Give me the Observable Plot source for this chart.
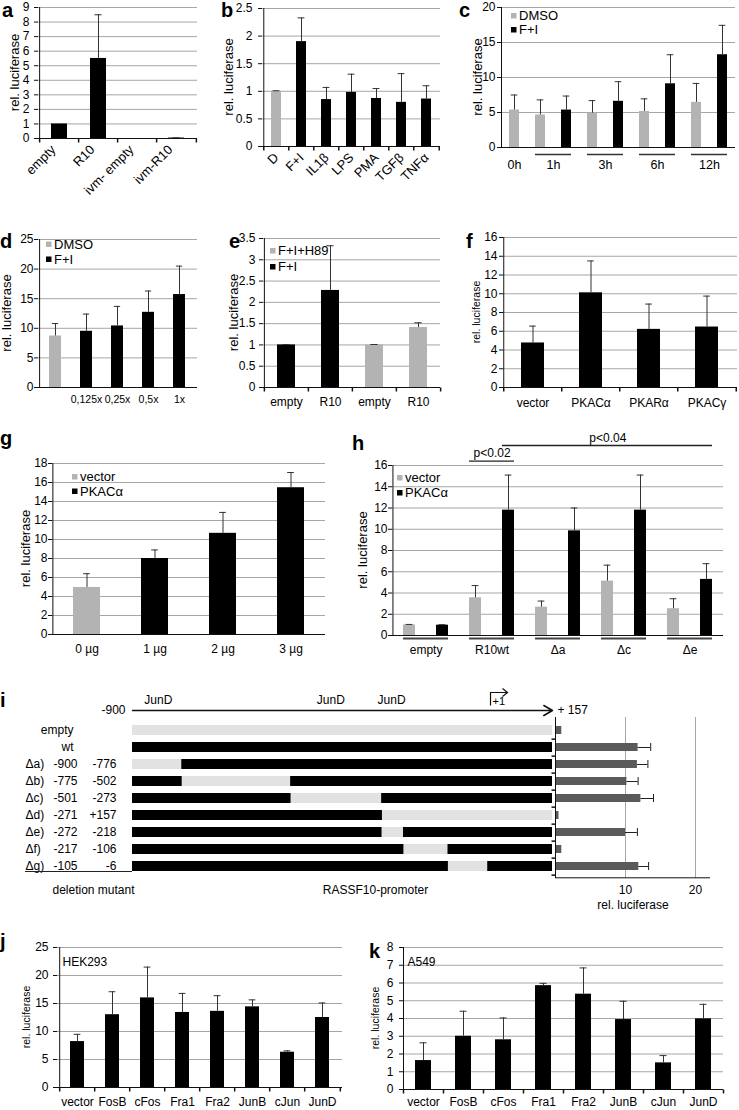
<!DOCTYPE html>
<html><head><meta charset="utf-8">
<script src="https://cdn.jsdelivr.net/npm/d3@7"></script>
<script src="https://cdn.jsdelivr.net/npm/@observablehq/plot@0.6"></script>
<style>
body{margin:0;background:#fff;}
#root{position:relative;width:739px;height:1110px;overflow:hidden;background:#fff;}
</style></head><body><div id="root"></div>
<script>
// ---------------- data ----------------
const aCats = ["empty", "R10", "ivm- empty", "ivm-R10"];
const aVals = [1, 5.5, 0, 0.03];
const aErrs = [0, 3.0, 0, 0.02];
const aTicks = [0, 1, 2, 3, 4, 5, 6, 7, 8, 9];

const bCats = ["D", "F+I", "IL1β", "LPS", "PMA", "TGFβ", "TNFα"];
const bSeries = ["control", "stimulus", "stimulus", "stimulus", "stimulus", "stimulus", "stimulus"];
const bVals = [1, 1.9, 0.85, 0.98, 0.87, 0.8, 0.86];
const bErrs = [0.01, 0.43, 0.22, 0.33, 0.18, 0.52, 0.24];
const bTicks = [0, 0.5, 1, 1.5, 2, 2.5];

const cTimes = ["0h", "1h", "1h", "3h", "3h", "6h", "6h", "12h", "12h"];
const cSeries = ["DMSO", "DMSO", "F+I", "DMSO", "F+I", "DMSO", "F+I", "DMSO", "F+I"];
const cVals = [5.35, 4.65, 5.35, 4.9, 6.6, 5.15, 9.1, 6.45, 13.25];
const cErrs = [2.15, 2.15, 2.0, 1.8, 2.8, 1.8, 4.15, 2.7, 4.2];
const cTicks = [0, 5, 10, 15, 20];

const dCats = ["DMSO", "0,125x", "0,25x", "0,5x", "1x"];
const dSeries = ["DMSO", "F+I", "F+I", "F+I", "F+I"];
const dVals = [8.7, 9.5, 10.4, 12.7, 15.7];
const dErrs = [2.1, 2.9, 3.3, 3.6, 4.8];
const dTicks = [0, 5, 10, 15, 20, 25];

const eCats = ["empty", "R10", "empty", "R10"];
const eSeries = ["F+I", "F+I", "F+I+H89", "F+I+H89"];
const eVals = [1, 2.28, 1, 1.41];
const eErrs = [0.01, 1.05, 0.01, 0.11];
const eTicks = [0, 0.5, 1, 1.5, 2, 2.5, 3, 3.5];

const fCats = ["vector", "PKACα", "PKARα", "PKACγ"];
const fVals = [4.75, 10.1, 6.2, 6.45];
const fErrs = [1.8, 3.4, 2.7, 3.3];
const fTicks = [0, 2, 4, 6, 8, 10, 12, 14, 16];

const gCats = ["0 µg", "1 µg", "2 µg", "3 µg"];
const gSeries = ["vector", "PKACα", "PKACα", "PKACα"];
const gVals = [4.95, 8.0, 10.65, 15.45];
const gErrs = [1.45, 0.9, 2.2, 1.6];
const gTicks = [0, 2, 4, 6, 8, 10, 12, 14, 16, 18];

const hGroups = ["empty", "R10wt", "Δa", "Δc", "Δe"];
const hSeriesNames = ["vector", "PKACα"];
const hVectorVals = [1.0, 3.55, 2.67, 5.12, 2.52];
const hVectorErrs = [0.04, 1.15, 0.57, 1.5, 0.94];
const hPkaVals = [0.97, 11.8, 9.85, 11.8, 5.28];
const hPkaErrs = [0.05, 3.3, 2.15, 3.3, 1.48];
const hTicks = [0, 2, 4, 6, 8, 10, 12, 14, 16];
const hSig = [
  {from: ["R10wt", "vector"], to: ["R10wt", "PKACα"], label: "p<0.02"},
  {from: ["R10wt", "PKACα"], to: ["Δe", "PKACα"], label: "p<0.04"}
];

const iRows = ["empty", "wt", "Δa)", "Δb)", "Δc)", "Δd)", "Δe)", "Δf)", "Δg)"];
const iDelFrom = [null, null, -900, -775, -501, -271, -272, -217, -105];
const iDelTo = [null, null, -776, -502, -273, 157, -218, -106, -6];
const iLuc = [0.9, 11.8, 11.7, 10.2, 12.2, 0.5, 10.0, 0.9, 11.9];
const iLucErr = [0, 1.8, 1.5, 1.6, 1.8, 0, 1.7, 0, 1.4];
const iLucTicks = [10, 20];
const promoter = {start: -900, end: 157};
const junD = [-835, -401, -248];
const tss = 1;

const jkCats = ["vector", "FosB", "cFos", "Fra1", "Fra2", "JunB", "cJun", "JunD"];
const jVals = [8.2, 13.0, 16.0, 13.4, 13.6, 14.4, 6.3, 12.5];
const jErrs = [1.3, 4.1, 5.5, 3.4, 2.8, 1.25, 0.25, 2.6];
const jTicks = [0, 5, 10, 15, 20, 25];
const kVals = [1.63, 3.0, 2.8, 5.85, 5.37, 3.94, 1.5, 3.98];
const kErrs = [1.0, 1.41, 1.23, 0.13, 1.48, 1.03, 0.41, 0.82];
const kTicks = [0, 1, 2, 3, 4, 5, 6, 7, 8];

// ---------------- style ----------------
const FONT = '"Liberation Sans", Arial, Helvetica, sans-serif';
const BLACK = "#000", GREY = "#b3b3b3", LIGHT = "#e2e2e2", GRID = "#a6a6a6", ERR = "#333", AXIS = "#111", IBAR = "#5a5a5a";
const seriesColor = {DMSO: GREY, "F+I": BLACK, "F+I+H89": GREY, vector: GREY, "PKACα": BLACK, control: GREY, stimulus: BLACK};

const root = document.getElementById("root");
function place(svg, L, T) {
  svg.style.position = "absolute"; svg.style.left = L + "px"; svg.style.top = T + "px";
  root.appendChild(svg);
}
const yLabels = [];
const vTick = {draw(ctx) { ctx.moveTo(0, 0); ctx.lineTo(0, 4); }};
const hTickSym = {draw(ctx) { ctx.moveTo(0, 0); ctx.lineTo(-4, 0); }};
const bentArrow = {draw(ctx) {
  ctx.moveTo(0, 0); ctx.lineTo(0, -13); ctx.lineTo(17, -13);
  ctx.moveTo(12, -17); ctx.lineTo(17, -13); ctx.lineTo(12, -9);
}};
const baseStyle = {fontFamily: FONT, fontSize: "12px", color: "#000", background: "transparent", overflow: "visible", maxWidth: "none"};

function barPanel(o) {
  const n = o.keys.length, step = (o.fx1 - o.fx0) / n, pad = o.pad ?? 0.6, bw = step * (1 - pad);
  const data = o.keys.map((k, i) => ({k, v: o.vals[i], e: o.errs[i], c: o.fills[i], lab: o.labels ? o.labels[i] : k}));
  const ed = data.filter(d => d.e > 0);
  const capIn = Math.max(0, (bw - 7) / 2);
  const marks = [
    Plot.gridY(o.ticks, {stroke: GRID, strokeOpacity: 1}),
    Plot.barY(data, {x: "k", y: "v", fill: "c"}),
    Plot.ruleX(ed, {x: "k", y1: "v", y2: d => d.v + d.e, stroke: ERR}),
    Plot.tickY(ed, {x: "k", y: d => d.v + d.e, stroke: ERR, insetLeft: capIn, insetRight: capIn}),
    Plot.ruleY([0], {stroke: AXIS}),
    Plot.ruleX([o.keys[0]], {x: d => d, dx: -step / 2, stroke: AXIS}),
    Plot.axisY(o.ticks, {tickSize: 4, tickPadding: o.tp ?? 3, fontSize: o.fs ?? 12, label: null, stroke: AXIS, tickFormat: d => String(d)})
  ];
  yLabels.push({x: o.ylx, y: (o.fy0 + o.fy1) / 2, size: o.yfs ?? 13});
  if (o.xticks) marks.push(
    Plot.dot(o.keys, {x: d => d, y: 0, dx: -step / 2, symbol: vTick, stroke: AXIS, fill: "none"}),
    Plot.dot([o.keys[n - 1]], {x: d => d, y: 0, dx: step / 2, symbol: vTick, stroke: AXIS, fill: "none"}));
  if (o.rot) marks.push(Plot.text(data, {x: "k", y: 0, text: "lab", rotate: -45, textAnchor: "end", dx: o.ldx ?? 0, dy: o.ldy ?? 8, fontSize: o.lfs ?? 12}));
  else if (o.ldy != null) marks.push(Plot.text(data, {x: "k", y: 0, text: "lab", dy: o.ldy, fontSize: o.lfs ?? 12}));
  if (o.extra) marks.push(...o.extra(step));
  const p = Plot.plot({
    width: o.W, height: o.H,
    marginLeft: o.fx0 - o.L, marginRight: o.L + o.W - o.fx1, marginTop: o.fy0 - o.T, marginBottom: o.T + o.H - o.fy1,
    x: {type: "band", domain: o.keys, paddingInner: pad, paddingOuter: pad / 2, axis: null},
    y: {domain: [o.ticks[0], o.ticks[o.ticks.length - 1]], axis: null},
    color: {type: "identity"},
    style: baseStyle,
    marks
  });
  place(p, o.L, o.T);
}

// a
barPanel({L: 0, T: 0, W: 215, H: 215, fx0: 38, fx1: 197, fy0: 7, fy1: 138,
  keys: aCats, vals: aVals, errs: aErrs, fills: aCats.map(() => BLACK), ticks: aTicks,
  tp: 5, ylx: 14, xticks: true, rot: true, ldx: -6, ldy: 9, lfs: 13});
// b
barPanel({L: 215, T: 0, W: 235, H: 215, fx0: 262, fx1: 440, fy0: 8, fy1: 146,
  keys: bCats, vals: bVals, errs: bErrs, fills: bSeries.map(s => seriesColor[s]), ticks: bTicks,
  tp: 6, ylx: 228, xticks: true, rot: true, ldx: 0, ldy: 9, lfs: 13});
// c
const cKeys = cTimes.map((t, i) => t + " " + cSeries[i]);
const cGroups = Array.from(d3.group(cKeys.map((k, i) => ({k, t: cTimes[i]})), d => d.t),
  ([t, arr]) => ({t, first: arr[0].k, last: arr[arr.length - 1].k, n: arr.length}));
barPanel({L: 450, T: 0, W: 289, H: 200, fx0: 501, fx1: 735, fy0: 7, fy1: 147,
  keys: cKeys, vals: cVals, errs: cErrs, fills: cSeries.map(s => seriesColor[s]), ticks: cTicks,
  tp: 2, ylx: 477, extra: step => [
    Plot.text(cGroups.filter(g => g.n === 1), {x: "first", y: 0, text: "t", dy: 17, fontSize: 12.5}),
    Plot.text(cGroups.filter(g => g.n > 1), {x: "first", y: 0, text: "t", dy: 17, dx: step / 2, fontSize: 12.5}),
    Plot.ruleY(cGroups.filter(g => g.n > 1), {x1: "first", x2: "last", y: 0, dy: 7, stroke: "#333", strokeWidth: 1.6})
  ]});
// d
barPanel({L: 0, T: 225, W: 215, H: 195, fx0: 38, fx1: 197, fy0: 239, fy1: 387,
  keys: dCats, vals: dVals, errs: dErrs, fills: dSeries.map(s => seriesColor[s]), ticks: dTicks,
  labels: dCats.map((c, i) => dSeries[i] === "DMSO" ? "" : c),
  tp: 1, ylx: 6, ldy: 12, lfs: 10.5});
// e
const eKeys = eCats.map((c, i) => eSeries[i] + "|" + c);
barPanel({L: 215, T: 225, W: 235, H: 195, fx0: 263, fx1: 440, fy0: 238, fy1: 387,
  keys: eKeys, vals: eVals, errs: eErrs, fills: eSeries.map(s => seriesColor[s]), ticks: eTicks,
  labels: eCats, tp: 4, ylx: 233, xticks: true, ldy: 15});
// f
barPanel({L: 450, T: 225, W: 289, H: 195, fx0: 503, fx1: 737, fy0: 237, fy1: 387,
  keys: fCats, vals: fVals, errs: fErrs, fills: fCats.map(() => BLACK), ticks: fTicks,
  tp: 2, ylx: 476, yfs: 10.5, xticks: true, ldy: 16});
// g
barPanel({L: 0, T: 430, W: 345, H: 235, fx0: 52, fx1: 325, fy0: 463, fy1: 634,
  keys: gCats, vals: gVals, errs: gErrs, fills: gSeries.map(s => seriesColor[s]), ticks: gTicks,
  tp: 1, ylx: 25, ldy: 15});
// h
const hKey = (g, s) => g + " " + s;
const hKeys = [], hVals = [], hErrs = [], hFills = [];
hGroups.forEach((g, i) => {
  hKeys.push(hKey(g, "vector"), hKey(g, "PKACα"));
  hVals.push(hVectorVals[i], hPkaVals[i]);
  hErrs.push(hVectorErrs[i], hPkaErrs[i]);
  hFills.push(seriesColor.vector, seriesColor["PKACα"]);
});
const hTop = hTicks[hTicks.length - 1];
const hGroupData = hGroups.map(g => ({g, first: hKey(g, hSeriesNames[0]), last: hKey(g, hSeriesNames[1])}));
barPanel({L: 345, T: 425, W: 394, H: 240, fx0: 392, fx1: 723, fy0: 465, fy1: 635,
  keys: hKeys, vals: hVals, errs: hErrs, fills: hFills, ticks: hTicks, pad: 0.63,
  tp: 1, ylx: 362, extra: step => [
    Plot.ruleY(hGroupData, {x1: "first", x2: "last", y: 0, dy: 3, stroke: "#444", strokeWidth: 1.8}),
    Plot.text(hGroupData, {x: "first", y: 0, text: "g", dy: 15, dx: step / 2, fontSize: 12}),
    Plot.ruleY([hSig[0]], {x1: d => hKey(...d.from), x2: d => hKey(...d.to), y: hTop, dy: -4.3, stroke: "#222", strokeWidth: 1.3}),
    Plot.text([hSig[0]], {x: d => hKey(...d.from), y: hTop, text: "label", dy: -12, dx: step / 2, fontSize: 12}),
    Plot.ruleY([hSig[1]], {x1: d => hKey(...d.from), x2: d => hKey(...d.to), y: hTop, dy: -20, stroke: "#222", strokeWidth: 1.3}),
    Plot.text([hSig[1]], {x: d => hKey(...d.from), y: hTop, text: "label", dy: -27, dx: 3 * step, fontSize: 12})
  ]});
// j
barPanel({L: 0, T: 930, W: 360, H: 180, fx0: 57, fx1: 342, fy0: 947, fy1: 1087,
  keys: jkCats, vals: jVals, errs: jErrs, fills: jkCats.map(() => BLACK), ticks: jTicks,
  tp: 5, ylx: 26, yfs: 10.5, xticks: true, ldy: 14.5, extra: () => [
    Plot.text(["HEK293"], {frameAnchor: "top-left", textAnchor: "start", dx: 5, dy: 10, fontSize: 12})
  ]});
// k
barPanel({L: 360, T: 930, W: 379, H: 180, fx0: 403, fx1: 723, fy0: 947, fy1: 1089,
  keys: jkCats, vals: kVals, errs: kErrs, fills: jkCats.map(() => BLACK), ticks: kTicks,
  tp: 6, ylx: 375, yfs: 10.5, xticks: true, ldy: 13, extra: () => [
    Plot.text(["A549"], {frameAnchor: "top-left", textAnchor: "start", dx: 4, dy: 10, fontSize: 12})
  ]});

// ---------------- panel i ----------------
const fmtPos = v => v > 0 ? "+" + v : String(v);
const iData = iRows.map((r, i) => ({row: r, from: iDelFrom[i], to: iDelTo[i], luc: iLuc[i], e: iLucErr[i]}));
// header (arrow, JunD sites, TSS)
place(Plot.plot({
  width: 620, height: 30, marginLeft: 132, marginRight: 68, marginTop: 4, marginBottom: 4,
  x: {domain: [promoter.start, promoter.end], axis: null},
  y: {domain: [0, 1], axis: null},
  style: baseStyle,
  marks: [
    Plot.arrow([promoter], {x1: "start", x2: "end", y1: 0, y2: 0, stroke: "#111", strokeWidth: 1.5, headLength: 10, bend: 0}),
    Plot.text(junD, {x: d => d, y: 0, dy: -10, text: () => "JunD", fontSize: 12}),
    Plot.text([promoter], {x: "start", y: 0, text: d => String(d.start), textAnchor: "end", dx: -7, fontSize: 12}),
    Plot.text([promoter], {x: "end", y: 0, text: d => "+ " + d.end, textAnchor: "start", dx: 5, fontSize: 12}),
    Plot.dot([tss], {x: d => d, y: 0, dy: -5, symbol: bentArrow, stroke: "#111", fill: "none", strokeWidth: 1.2}),
    Plot.text([tss], {x: d => d, y: 0, dy: -9, dx: 2, textAnchor: "start", text: d => "+" + d, fontSize: 11})
  ]
}), 0, 684);
// promoter constructs
place(Plot.plot({
  width: 560, height: 170, marginLeft: 132, marginRight: 8, marginTop: 7.6, marginBottom: 6.6,
  x: {domain: [promoter.start, promoter.end], axis: null},
  y: {type: "band", domain: iRows, paddingInner: 0.42, paddingOuter: 0.21, axis: null},
  color: {type: "identity"},
  style: baseStyle,
  marks: [
    Plot.barX(iData, {y: "row", x1: promoter.start, x2: promoter.end, fill: d => d.row === "empty" ? LIGHT : BLACK}),
    Plot.barX(iData.filter(d => d.from != null), {y: "row", x1: "from", x2: "to", fill: LIGHT}),
    Plot.text(iData.filter(d => d.from == null), {y: "row", frameAnchor: "left", text: "row", textAnchor: "end", dx: -59, fontSize: 12}),
    Plot.text(iData.filter(d => d.from != null), {y: "row", frameAnchor: "left", text: "row", textAnchor: "start", dx: -107, fontSize: 12}),
    Plot.text(iData.filter(d => d.from != null), {y: "row", frameAnchor: "left", text: d => fmtPos(d.from), textAnchor: "end", dx: -55, fontSize: 12}),
    Plot.text(iData.filter(d => d.from != null), {y: "row", frameAnchor: "left", text: d => fmtPos(d.to), textAnchor: "end", dx: -16, fontSize: 12}),
    Plot.text(["deletion mutant"], {frameAnchor: "bottom-left", textAnchor: "start", dx: -80, dy: 17.6, fontSize: 12}),
    Plot.text(["RASSF10-promoter"], {frameAnchor: "bottom", dx: 33, dy: 17.6, fontSize: 12})
  ]
}), 0, 712);
// luciferase of constructs
{
  const pi = 0.54, po = 0.423, fy0 = 717, fy1 = 878;
  const stepI = (fy1 - fy0) / (iRows.length - pi + 2 * po), bwI = stepI * (1 - pi);
  const ed = iData.filter(d => d.e > 0);
  place(Plot.plot({
    width: 186, height: 200, marginLeft: 2, marginRight: 186 - 157, marginTop: fy0 - 712, marginBottom: 912 - fy1,
    x: {domain: [0, 155 / 7], axis: null},
    y: {type: "band", domain: iRows, paddingInner: pi, paddingOuter: po, axis: null},
    style: baseStyle,
    marks: [
      Plot.gridX(iLucTicks, {stroke: GRID, strokeOpacity: 1}),
      Plot.barX(iData, {y: "row", x: "luc", fill: IBAR}),
      Plot.ruleY(ed, {y: "row", x1: "luc", x2: d => d.luc + d.e, stroke: "#222"}),
      Plot.tickX(ed, {y: "row", x: d => d.luc + d.e, stroke: "#222"}),
      Plot.ruleX([0], {stroke: AXIS}),
      Plot.ruleY([iRows[iRows.length - 1]], {y: d => d, dy: bwI / 2 + po * stepI, stroke: AXIS}),
      Plot.dot(iRows, {x: 0, y: d => d, dy: stepI / 2, symbol: hTickSym, stroke: AXIS, fill: "none"}),
      Plot.text(iLucTicks, {x: d => d, frameAnchor: "bottom", dy: 15, text: d => String(d), fontSize: 12}),
      Plot.text(["rel. luciferase"], {frameAnchor: "bottom", dy: 30, fontSize: 12})
    ]
  }), 553, 712);
}

// ---------------- overlay: panel letters, axis titles, legends ----------------
const ov = d3.create("svg").attr("width", 739).attr("height", 1110)
  .style("position", "absolute").style("left", "0px").style("top", "0px").style("overflow", "visible")
  .attr("font-family", FONT);
ov.selectAll("text.ylab").data(yLabels).join("text").attr("class", "ylab")
  .attr("transform", d => `translate(${d.x},${d.y}) rotate(-90)`)
  .attr("text-anchor", "middle").attr("dy", "0.35em").attr("font-size", d => d.size).text("rel. luciferase");
const letters = [["a", 2, 17], ["b", 221, 17], ["c", 459, 17], ["d", 0, 248], ["e", 229, 248], ["f", 466, 248],
  ["g", 0, 445], ["h", 352, 450], ["i", 0, 707], ["j", 0, 948], ["k", 369, 958]];
ov.selectAll("text.letter").data(letters).join("text").attr("class", "letter")
  .attr("x", d => d[1]).attr("y", d => d[2]).attr("font-size", 20).attr("font-weight", "bold").text(d => d[0]);
const legendSpecs = [
  {x: 511, y: 13, gap: 14, items: ["DMSO", "F+I"]},
  {x: 46, y: 241.5, gap: 15, items: ["DMSO", "F+I"]},
  {x: 270, y: 248, gap: 16, items: ["F+I+H89", "F+I"]},
  {x: 72, y: 474, gap: 14.5, items: ["vector", "PKACα"]},
  {x: 397, y: 475, gap: 15, items: ["vector", "PKACα"]}
];
legendSpecs.forEach(L => {
  L.items.forEach((name, i) => {
    ov.append("rect").attr("x", L.x).attr("y", L.y + i * L.gap).attr("width", 5.5).attr("height", 5.5).attr("fill", seriesColor[name]);
    ov.append("text").attr("x", L.x + 8).attr("y", L.y + 2.75 + i * L.gap).attr("dy", "0.36em").attr("font-size", 13).text(name);
  });
});
ov.append("line").attr("x1", 25).attr("x2", 132).attr("y1", 871.5).attr("y2", 871.5).attr("stroke", "#222");
root.appendChild(ov.node());
</script></body></html>
